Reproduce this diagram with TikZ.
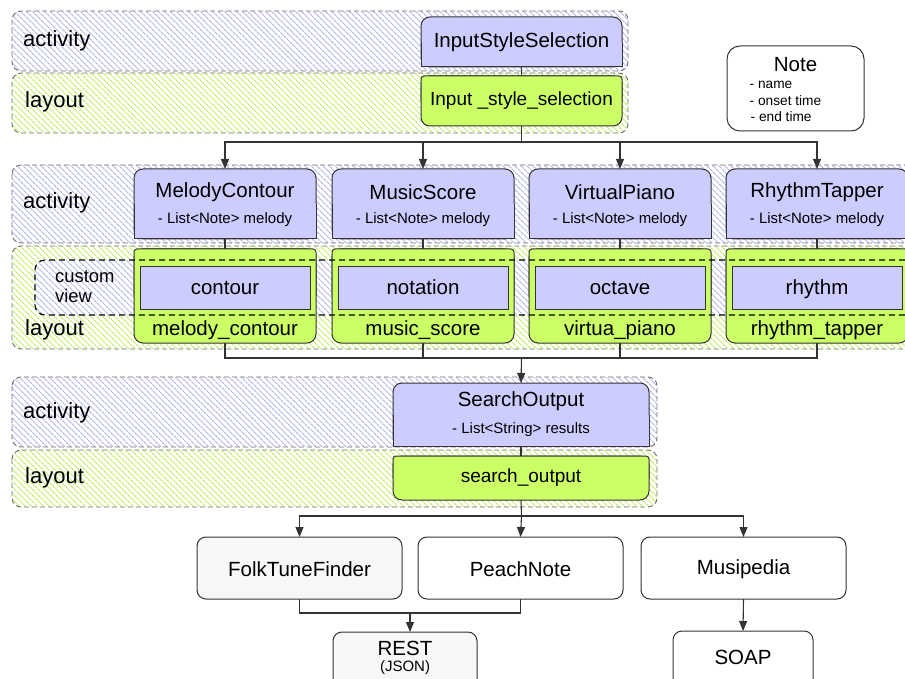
\documentclass[tikz,border=0pt]{standalone}
\usepackage{fontspec}
\setmainfont{Liberation Sans}
\usetikzlibrary{arrows.meta,patterns.meta}
\definecolor{actc}{HTML}{CCCCFF}
\definecolor{layc}{HTML}{CCFF66}
\definecolor{hblue}{HTML}{B2B2EC}
\definecolor{hgreen}{HTML}{BEEC5E}
\definecolor{edgec}{HTML}{333333}
\definecolor{bandedge}{HTML}{6E6E6E}
\definecolor{lgray}{HTML}{F7F7F7}
\newcommand{\fs}[1]{\fontsize{#1}{#1}\selectfont}
\newcommand{\ActBox}[5]{\node[actbox, minimum width=#4, minimum height=#5] (#1) at (#2,#3) {};
  \path[actsq] (#1.west) -- (#1.south west) -- (#1.south east) -- (#1.east);}
\newcommand{\LayBox}[5]{\node[laybox, minimum width=#4, minimum height=#5] (#1) at (#2,#3) {};
  \path[laysq] (#1.west) -- (#1.north west) -- (#1.north east) -- (#1.east);}
\begin{document}
\begin{tikzpicture}[x=1pt,y=-1pt,
  band/.style={draw=bandedge, line width=0.9pt, dash pattern=on 5pt off 3pt, rounded corners=9pt},
  bandA/.style={band, pattern={Lines[angle=-45,distance=4pt,line width=1.1pt]}, pattern color=hblue},
  bandL/.style={band, pattern={Lines[angle=-45,distance=4pt,line width=1.1pt]}, pattern color=hgreen},
  actbox/.style={draw=edgec, line width=1pt, fill=actc, rounded corners=9pt, inner sep=0pt, outer sep=0pt},
  actsq/.style={draw=edgec, line width=1pt, fill=actc},
  laybox/.style={draw=edgec, line width=1pt, fill=layc, rounded corners=9pt, inner sep=0pt, outer sep=0pt},
  laysq/.style={draw=edgec, line width=1pt, fill=layc, rounded corners=3pt},
  innerbox/.style={draw=edgec, line width=1pt, fill=actc, inner sep=0pt, outer sep=0pt, minimum width=170pt, minimum height=43pt},
  plainbox/.style={draw=edgec, line width=1pt, fill=white, rounded corners=9pt, inner sep=0pt, outer sep=0pt},
  cv/.style={draw=black, line width=1.1pt, dash pattern=on 6pt off 4pt, rounded corners=10pt},
  conn/.style={draw=edgec, line width=1.1pt},
  arr/.style={conn, -{Triangle[length=10pt,width=8pt]}},
  big/.style={inner sep=0pt, font=\fs{20.5}},
  mid/.style={inner sep=0pt, font=\fs{19}},
  small/.style={inner sep=0pt, font=\fs{15}},
  tiny/.style={inner sep=0pt, font=\fs{13.7}, anchor=west},
  lbl/.style={inner sep=0pt, font=\fs{22}, anchor=west}
]
\useasboundingbox (0,0) rectangle (905,679);
\clip (0,0) rectangle (905,679);

% ---------- bands ----------
\path[bandA] (12,11) rectangle (628,71);
\path[bandL] (12,73) rectangle (628,133);
\path[bandA] (12,165) rectangle (925,243);
\path[bandL] (12,246) rectangle (925,349);
\path[fill=white] (925,260) [rounded corners=10pt] -- (35,260) -- (35,315) [sharp corners] -- (925,315) -- cycle;
\path[pattern={Lines[angle=-45,distance=4pt,line width=1.1pt]}, pattern color=hblue] (925,260) [rounded corners=10pt] -- (35,260) -- (35,315) [sharp corners] -- (925,315) -- cycle;
\path[bandA] (12,377) rectangle (657,447);
\path[bandL] (12,450) rectangle (657,507);

% ---------- coordinates for buses ----------
\coordinate (bus1) at (521.5,142);
\coordinate (bus2) at (521.5,358);
\coordinate (bus3) at (521.5,516);
\coordinate (bus4) at (410,613);

% ---------- boxes ----------
\ActBox{iss}{521.5}{42}{201pt}{50pt}
\LayBox{isl}{521.5}{101}{201pt}{50pt}
\node[plainbox, rounded corners=13pt, minimum width=137pt, minimum height=85pt] (note) at (795.5,88.5) {};

\ActBox{mc}{225}{204}{182pt}{70pt}
\ActBox{ms}{423}{204}{182pt}{70pt}
\ActBox{vp}{620}{204}{182pt}{70pt}
\ActBox{rt}{817}{204}{182pt}{70pt}
\LayBox{mcl}{225}{296}{182pt}{94pt}
\LayBox{msl}{423}{296}{182pt}{94pt}
\LayBox{vpl}{620}{296}{182pt}{94pt}
\LayBox{rtl}{817}{296}{182pt}{94pt}
\node[innerbox] (mci) at (225,287.5) {};
\node[innerbox] (msi) at (423,287.5) {};
\node[innerbox] (vpi) at (620,287.5) {};
\node[innerbox] (rti) at (817,287.5) {};

\ActBox{so}{521}{414.5}{256pt}{63pt}
\LayBox{sol}{521}{478}{256pt}{44pt}

\node[plainbox, fill=lgray, minimum width=205pt, minimum height=62pt] (ftf) at (299.5,568) {};
\node[plainbox, minimum width=205pt, minimum height=62pt] (pn) at (520.5,568) {};
\node[plainbox, minimum width=205pt, minimum height=62pt] (mu) at (743.5,568) {};
\node[plainbox, fill=lgray, minimum width=144pt, minimum height=62pt] (rest) at (405,663) {};
\node[plainbox, minimum width=140pt, minimum height=62pt] (soap) at (743,662) {};

% ---------- connectors ----------
\draw[conn] (iss.south) -- (isl.north);
\draw[conn] (isl.south) -- (bus1);
\draw[arr] (bus1) -| (mc.north);
\draw[arr] (bus1) -| (ms.north);
\draw[arr] (bus1) -| (vp.north);
\draw[arr] (bus1) -| (rt.north);
\draw[conn] (mc.south) -- (mcl.north);
\draw[conn] (ms.south) -- (msl.north);
\draw[conn] (vp.south) -- (vpl.north);
\draw[conn] (rt.south) -- (rtl.north);
\draw[conn] (mcl.south) |- (bus2);
\draw[conn] (msl.south) |- (bus2);
\draw[conn] (vpl.south) |- (bus2);
\draw[conn] (rtl.south) |- (bus2);
\draw[arr] (bus2) -- (so.north);
\draw[conn] (so.south) -- (sol.north);
\draw[conn] (sol.south) -- (bus3);
\draw[arr] (bus3) -| (ftf.north);
\draw[arr] (bus3) -- (pn.north);
\draw[arr] (bus3) -| (mu.north);
\draw[conn] (ftf.south) |- (bus4);
\draw[conn] (pn.south) |- (bus4);
\draw[arr] (bus4) -- (bus4 |- rest.north);
\draw[arr] (mu.south) -- (soap.north);

% custom view frame on top
\draw[cv] (925,260) [rounded corners=10pt] -- (35,260) -- (35,315) [sharp corners] -- (925,315);

% ---------- texts ----------
\node[lbl] (l1a) at (23,41) {activity};
\node[lbl] (l1l) at (25,102) {layout};
\node[lbl] (l2a) at (23,203) {activity};
\node[lbl] (l2l) at (25,330) {layout};
\node[lbl] (l3a) at (23,413) {activity};
\node[lbl] (l3l) at (25,478) {layout};
\node[inner sep=0pt, font=\fs{18.4}, anchor=west, align=left] (cvt) at (55,287) {custom\\[1.5pt]view};

\node[big] (iss-t) at (521.5,42) {InputStyleSelection};
\node[mid] (isl-t) at (521.5,101) {Input \_style\_selection};

\node[big] (note-t) at (795.5,65) {Note};
\node[tiny] (note-a) at (749.5,85) {- name};
\node[tiny] (note-b) at (749.5,101) {- onset time};
\node[tiny] (note-c) at (750.5,116.5) {- end time};

\node[big] (mc-t) at (225,192) {MelodyContour};
\node[small] (mc-s) at (225,220) {- List<Note> melody};
\node[big] (ms-t) at (423,192) {MusicScore};
\node[small] (ms-s) at (423,220) {- List<Note> melody};
\node[big] (vp-t) at (620,192) {VirtualPiano};
\node[small] (vp-s) at (620,220) {- List<Note> melody};
\node[big] (rt-t) at (817,192) {RhythmTapper};
\node[small] (rt-s) at (817,220) {- List<Note> melody};

\node[big] (mci-t) at (225,287.5) {contour};
\node[big] (msi-t) at (423,287.5) {notation};
\node[big] (vpi-t) at (620,287.5) {octave};
\node[big] (rti-t) at (817,289) {rhythm};
\node[big] (mcl-t) at (225,330) {melody\_contour};
\node[big] (msl-t) at (423,330) {music\_score};
\node[big] (vpl-t) at (620,330) {virtua\_piano};
\node[big] (rtl-t) at (817,330) {rhythm\_tapper};

\node[big] (so-t) at (521,401) {SearchOutput};
\node[small] (so-s) at (521,430) {- List<String> results};
\node[mid] (sol-t) at (521,478) {search\_output};

\node[big] (ftf-t) at (299.5,569) {FolkTuneFinder};
\node[big] (pn-t) at (520.5,569) {PeachNote};
\node[big] (mu-t) at (743.5,569) {Musipedia};
\node[big] (rest-t) at (405,648) {REST};
\node[small] (rest-s) at (405,668) {(JSON)};
\node[big] (soap-t) at (743,657) {SOAP};
\end{tikzpicture}
\end{document}
